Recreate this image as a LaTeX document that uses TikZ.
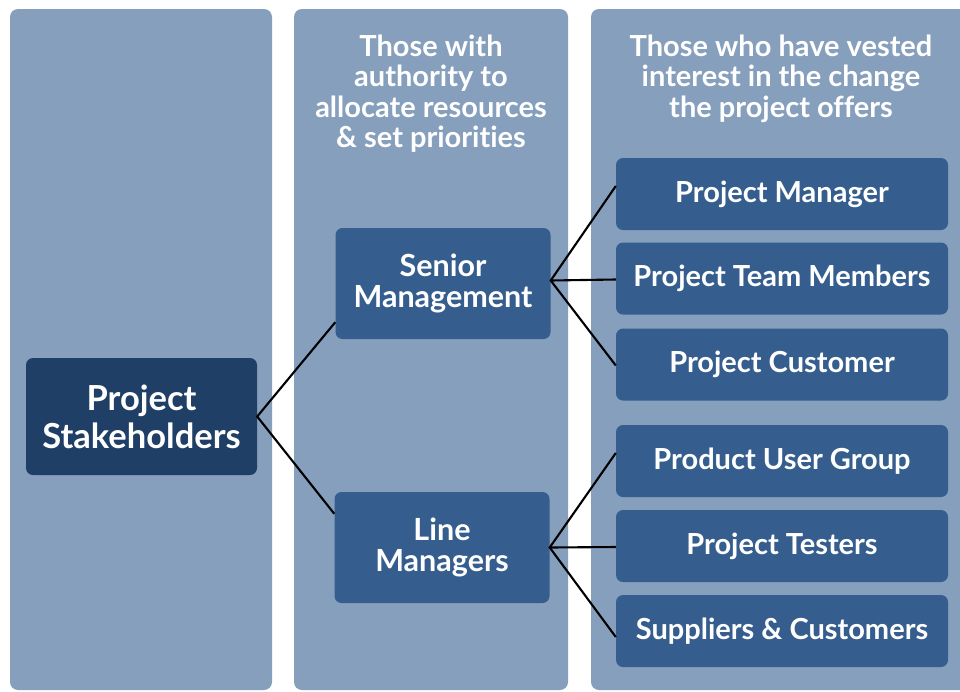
\documentclass[tikz,border=0pt]{standalone}
\usepackage{fontspec}
\setmainfont{Lato}[Ligatures=NoCommon]
\definecolor{colbg}{RGB}{134,159,189}
\definecolor{nodeblue}{RGB}{53,94,143}
\definecolor{nodedark}{RGB}{31,63,102}
\begin{document}
\begin{tikzpicture}[x=1pt,y=-1pt,
  column/.style={fill=colbg, rounded corners=8pt},
  box/.style={fill=nodeblue, rounded corners=7pt, text=white, align=center, inner sep=0pt,
    font=\fontsize{29}{30}\selectfont\bfseries},
  leaf/.style={box, minimum width=332pt, minimum height=72pt},
  mid/.style={box, minimum width=215pt, minimum height=111pt, font=\fontsize{30.5}{30.5}\selectfont\bfseries},
  title/.style={text=white, align=center, font=\fontsize{29}{30.5}\selectfont\bfseries, anchor=north},
  link/.style={draw=black, line width=2.1pt}]
\useasboundingbox (0,0) rectangle (960,691);
\fill[white] (0,0) rectangle (960,691);
\fill[column] (10,9) rectangle (272,690);
\fill[column] (294,9) rectangle (568,690);
\fill[column] (591,9) rectangle (980,690);

\node[title] (t2) at (431,31) {Those with\\authority to\\allocate resources\\\& set priorities};
\node[title] (t3) at (781,31) {Those who have vested\\interest in the change\\the project offers};

\node[box, fill=nodedark, minimum width=231pt, minimum height=117pt,
  font=\fontsize{34.5}{38}\selectfont\bfseries] (sh) at (141.5,416.5) {Project\\Stakeholders};
\node[mid] (sm) at (443,283.5) {Senior\\Management};
\node[mid] (lm) at (442,547.5) {Line\\Managers};

\node[leaf] (pm)  at (782,194)   {Project Manager};
\node[leaf] (ptm) at (782,278.5) {Project Team Members};
\node[leaf] (pc)  at (782,364.5) {Project Customer};
\node[leaf] (pug) at (782,461)   {Product User Group};
\node[leaf] (pt)  at (782,546)   {Project Testers};
\node[leaf] (sc)  at (782,631)   {Suppliers \& Customers};

\draw[link] ([yshift=17pt]sm.south west) -- (sh.east) -- ([yshift=-22pt]lm.north west);
\draw[link] ([yshift=8pt]pm.west) -- ([yshift=3pt]sm.east) -- ([yshift=-1pt]pc.west);
\draw[link] ([yshift=3pt]sm.east) -- ([yshift=-1pt]ptm.west);
\draw[link] ([yshift=8pt]pug.west) -- (lm.east) -- ([yshift=-6pt]sc.west);
\draw[link] (lm.east) -- ([yshift=-1pt]pt.west);
\end{tikzpicture}
\end{document}
